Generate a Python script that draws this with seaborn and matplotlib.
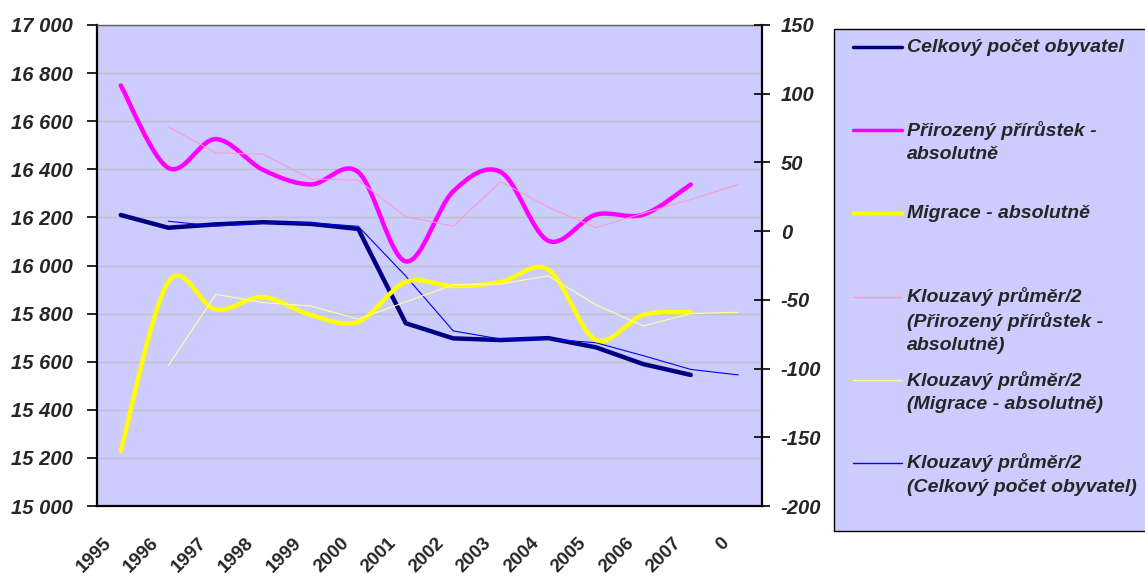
import numpy as np
import pandas as pd
import seaborn as sns
import matplotlib.pyplot as plt
import matplotlib.transforms as mtrans
from matplotlib.path import Path
from matplotlib.patches import PathPatch, Rectangle
from matplotlib.lines import Line2D

# data
years = ["1995", "1996", "1997", "1998", "1999", "2000", "2001",
         "2002", "2003", "2004", "2005", "2006", "2007", "0"]
celkovy = [16210, 16157, 16171, 16180, 16173, 16152, 15760,
           15697, 15690, 15698, 15660, 15590, 15545]
prirozeny = [106, 46, 67, 44.5, 34, 43, -22, 29, 43, -7, 12, 12, 34]
migrace = [-160, -37, -57, -48, -61, -66, -37, -40, -37, -28, -79, -61, -59]
# moving averages start at the second category
ma_celkovy = [16184, 16164, 16176, 16177, 16163, 15956, 15728,
              15694, 15694, 15679, 15625, 15568, 15545]
ma_prirozeny = [76, 57, 56, 38, 37, 10.5, 3.7, 36, 17.5, 2.5, 13, 23, 34]
ma_migrace = [-98, -46, -52, -54.5, -64, -51.5, -39, -38.5, -32.5, -53.5, -69, -60, -59]

left_ticks = list(range(15000, 17001, 200))
right_ticks = list(range(-200, 151, 50))

sns.set_style("white")
plt.rcParams['font.family'] = ['Liberation Sans', 'DejaVu Sans']

W, H = 1145, 581
fig = plt.figure(figsize=(W / 100, H / 100), dpi=100)


def fx(px):
    return px / W


def fy(py):
    return 1 - py / H


def smooth_path(xs, ys):
    # excel-like smoothed line: cubic bezier through the points
    pts = np.column_stack([xs, ys]).astype(float)
    ext = np.vstack([pts[0], pts, pts[-1]])
    verts = [pts[0]]
    codes = [Path.MOVETO]
    for i in range(len(pts) - 1):
        p0, p1, p2, p3 = ext[i], ext[i + 1], ext[i + 2], ext[i + 3]
        verts += [p1 + (p2 - p0) / 6, p2 - (p3 - p1) / 6, p2]
        codes += [Path.CURVE4] * 3
    return Path(verts, codes)


ax = fig.add_axes([fx(97), fy(506), (762 - 97) / W, (506 - 25) / H])
ax.set_facecolor('#CCCCFF')
ax2 = ax.twinx()

x = np.arange(len(celkovy))
x_ma = np.arange(1, len(years))

sns.lineplot(x=x, y=celkovy, ax=ax, color='#000080', lw=3.2, legend=False,
             solid_joinstyle='round', solid_capstyle='round')
sns.lineplot(x=x_ma, y=ma_celkovy, ax=ax, color='#0000FF', lw=0.8, legend=False)

ax2.add_patch(PathPatch(smooth_path(x, prirozeny), fill=False, edgecolor='#FF00FF',
                        lw=3.2, capstyle='round', joinstyle='round'))
ax2.add_patch(PathPatch(smooth_path(x, migrace), fill=False, edgecolor='#FFFF00',
                        lw=3.2, capstyle='round', joinstyle='round'))
sns.lineplot(x=x_ma, y=ma_prirozeny, ax=ax2, color='#FF99CC', lw=0.8, legend=False)
sns.lineplot(x=x_ma, y=ma_migrace, ax=ax2, color='#FFFF99', lw=0.8, legend=False)

# axes
ax.set_xlim(-0.5, len(years) - 0.5)
ax.set_ylim(15000, 17000)
ax2.set_ylim(-200, 150)

ax.set_yticks(left_ticks)
ax.set_yticklabels([f"{v:,}".replace(",", " ") for v in left_ticks],
                   fontsize=14.5, fontweight='bold', fontstyle='italic')
ax2.set_yticks(right_ticks)
ax2.set_yticklabels([str(v) for v in right_ticks],
                    fontsize=14.5, fontweight='bold', fontstyle='italic')

ax.set_xticks(np.arange(len(years)))
ax.set_xticklabels(years, rotation=45, ha='right', va='center', rotation_mode='anchor',
                   fontsize=13.5, fontweight='bold')
ax.set_xticks(np.arange(-0.5, len(years), 1), minor=True)
ax.tick_params(axis='x', which='major', length=0, pad=25)
ax.tick_params(axis='x', which='minor', length=7, width=1.2, direction='out', color='black')
shift = mtrans.ScaledTranslation(-12 / 100, 0, fig.dpi_scale_trans)
for lab in ax.get_xticklabels():
    lab.set_transform(lab.get_transform() + shift)

ax.tick_params(axis='y', direction='out', length=7, width=1.2, pad=10.5, color='black')
ax2.tick_params(axis='y', direction='inout', length=12, width=1.2, pad=7.5, color='black')

ax.grid(axis='y', color='#C0C0C0', lw=1)
ax.grid(axis='x', visible=False)
ax.set_axisbelow(True)
ax2.grid(False)
ax.set_xlabel('')
ax.set_ylabel('')
ax2.set_ylabel('')

for s in ['left', 'bottom']:
    ax.spines[s].set_color('black')
    ax.spines[s].set_linewidth(1.6)
ax.spines['top'].set_color('#606060')
ax.spines['top'].set_linewidth(1)
ax.spines['right'].set_visible(False)
for s in ['left', 'bottom', 'top']:
    ax2.spines[s].set_visible(False)
ax2.spines['right'].set_color('black')
ax2.spines['right'].set_linewidth(1.6)

# legend box drawn by hand (excel spreads entries evenly)
fig.add_artist(Rectangle((fx(834), fy(531)), fx(1150) - fx(834), fy(29) - fy(531),
                         transform=fig.transFigure, facecolor='#CCCCFF',
                         edgecolor='black', lw=1, clip_on=False))
entries = [
    (47, '#000080', 2.5, ["Celkový počet obyvatel"]),
    (130, '#FF00FF', 2.5, ["Přirozený přírůstek -", "absolutně"]),
    (213, '#FFFF00', 2.5, ["Migrace - absolutně"]),
    (297, '#FF99CC', 1, ["Klouzavý průměr/2", "(Přirozený přírůstek -", "absolutně)"]),
    (380, '#FFFF99', 1, ["Klouzavý průměr/2", "(Migrace - absolutně)"]),
    (463, '#0000FF', 1, ["Klouzavý průměr/2", "(Celkový počet obyvatel)"]),
]
for ypx, col, lw, lines in entries:
    fig.add_artist(Line2D([fx(853), fx(902)], [fy(ypx), fy(ypx)], color=col, lw=lw,
                          transform=fig.transFigure))
    for k, t in enumerate(lines):
        fig.text(fx(907), fy(ypx + 24.5 * k), t, ha='left', va='center',
                 fontsize=14, fontweight='bold', fontstyle='italic')

fig.savefig('out.png', dpi=100)
